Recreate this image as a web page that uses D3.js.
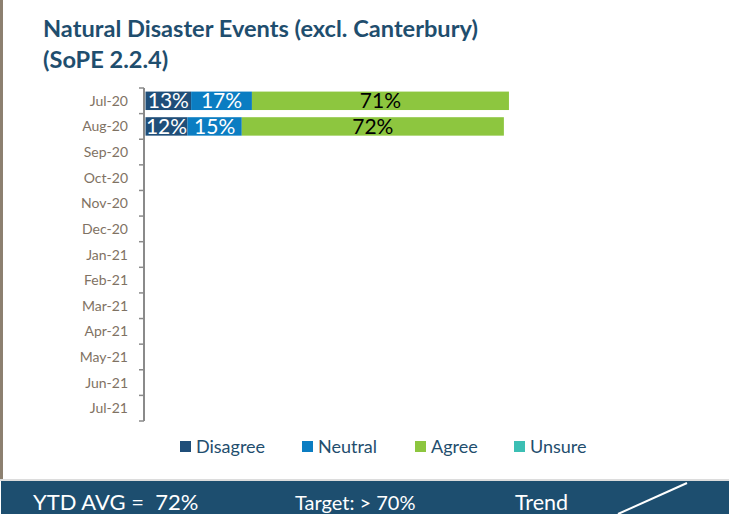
<!DOCTYPE html>
<html>
<head>
<meta charset="utf-8">
<script src="https://cdn.jsdelivr.net/npm/d3@7"></script>
<style>
  body { margin: 0; background: #fff; }
  svg { display: block; font-family: Lato, "Open Sans", sans-serif; }
</style>
</head>
<body>
<div id="chart"></div>
<script>
// months on the y axis
const months = ["Jul-20","Aug-20","Sep-20","Oct-20","Nov-20","Dec-20","Jan-21","Feb-21","Mar-21","Apr-21","May-21","Jun-21","Jul-21"];
// response shares (%) per month, only first two months have data
const disagree = [12.6, 11.6];
const neutral  = [16.8, 15.0];
const agree    = [71.0, 72.4];
const unsure   = [0, 0];
const seriesNames = ["Disagree","Neutral","Agree","Unsure"];
const colors = ["#1f4e79","#0b7dc2","#8dc63f","#3cbfb4"];

const w = 729, h = 514;
const svg = d3.select("#chart").append("svg").attr("width", w).attr("height", h);

// left border
svg.append("rect").attr("x", 0).attr("y", 0).attr("width", 3).attr("height", 481).attr("fill", "#8c8070");

// title
svg.append("text").attr("x", 43).attr("y", 37).attr("font-size", "23.6px").attr("font-weight", "bold")
    .attr("fill", "#1f4e6e").text("Natural Disaster Events (excl. Canterbury)");
svg.append("text").attr("x", 43).attr("y", 68).attr("font-size", "23.6px").attr("font-weight", "bold")
    .attr("fill", "#1f4e6e").text("(SoPE 2.2.4)");

// scales
const yScale = d3.scaleBand().domain(months).range([88, 421]).paddingInner(0.28).paddingOuter(0.14);
const xScale = d3.scaleLinear().domain([0, 100]).range([145.5, 507.5]);

// stacked data
const rows = disagree.map((d, i) => ({month: months[i], Disagree: d, Neutral: neutral[i], Agree: agree[i], Unsure: unsure[i]}));
const stack = d3.stack().keys(seriesNames)(rows);

const layers = svg.selectAll("g.layer").data(stack).enter().append("g")
    .attr("class", "layer").attr("fill", (d, i) => colors[i]);
layers.selectAll("rect").data(d => d).enter().append("rect")
    .attr("x", d => xScale(d[0]))
    .attr("y", d => yScale(d.data.month))
    .attr("width", d => xScale(d[1]) - xScale(d[0]))
    .attr("height", yScale.bandwidth());

// value labels
stack.forEach((layer, i) => {
    layer.forEach(d => {
        const v = d[1] - d[0];
        if (v <= 0) return;
        svg.append("text")
            .attr("x", (xScale(d[0]) + xScale(d[1])) / 2)
            .attr("y", yScale(d.data.month) + yScale.bandwidth() / 2 + 7.5)
            .attr("text-anchor", "middle")
            .attr("font-size", "21px")
            .attr("fill", i == 2 ? "#000" : "#fff")
            .text(Math.round(v) + "%");
    });
});

// y axis with ticks between categories
const axisX = 144;
svg.append("line").attr("x1", axisX).attr("x2", axisX).attr("y1", 88).attr("y2", 421)
    .attr("stroke", "#8a8a8a").attr("stroke-width", 2);
const step = (421 - 88) / months.length;
d3.range(months.length + 1).forEach(i => {
    svg.append("line").attr("x1", axisX - 5).attr("x2", axisX)
        .attr("y1", 88 + i * step).attr("y2", 88 + i * step)
        .attr("stroke", "#8a8a8a").attr("stroke-width", 1.5);
});
svg.selectAll("text.ylab").data(months).enter().append("text")
    .attr("class", "ylab")
    .attr("x", 128)
    .attr("y", d => yScale(d) + yScale.bandwidth() / 2 + 5)
    .attr("text-anchor", "end")
    .attr("font-size", "14px")
    .attr("fill", "#7f7263")
    .text(d => d);

// legend
const legendX = [180, 302, 415, 514];
seriesNames.forEach((name, i) => {
    svg.append("rect").attr("x", legendX[i]).attr("y", 441).attr("width", 11).attr("height", 11).attr("fill", colors[i]);
    svg.append("text").attr("x", legendX[i] + 16).attr("y", 453).attr("font-size", "18px")
        .attr("fill", "#1f4e6e").text(name);
});

// bottom banner
svg.append("rect").attr("x", 0).attr("y", 479).attr("width", w).attr("height", 2).attr("fill", "#dcdcdc");
svg.append("rect").attr("x", 1).attr("y", 481).attr("width", w).attr("height", 33).attr("fill", "#1d4e6f");
svg.append("text").attr("x", 33).attr("y", 510).attr("font-size", "22px").attr("fill", "#fff")
    .style("white-space", "pre").text("YTD AVG =  72%");
svg.append("text").attr("x", 295).attr("y", 510).attr("font-size", "20px").attr("fill", "#fff").text("Target: > 70%");
svg.append("text").attr("x", 515).attr("y", 510).attr("font-size", "21.5px").attr("fill", "#fff").text("Trend");
svg.append("line").attr("x1", 618).attr("y1", 514).attr("x2", 687).attr("y2", 483)
    .attr("stroke", "#fff").attr("stroke-width", 2);
</script>
</body>
</html>
